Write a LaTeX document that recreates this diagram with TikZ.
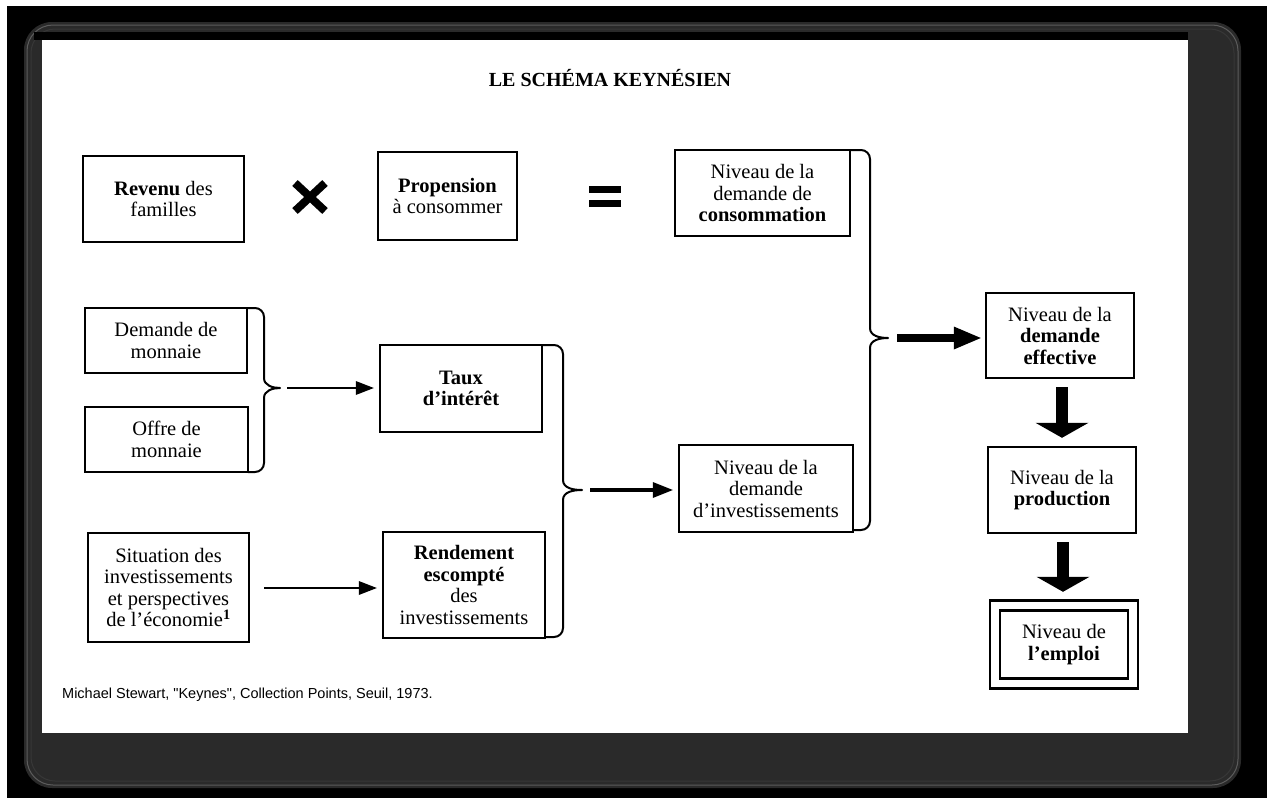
\documentclass[tikz,border=0pt]{standalone}
\usepackage{fontspec}
\setmainfont{Liberation Serif}
\newfontfamily\footfont{Liberation Sans}
\usetikzlibrary{arrows.meta,calc}
\definecolor{shadowgray}{HTML}{2A2A2A}
\definecolor{shadowline}{HTML}{5C5C5C}
\begin{document}
\begin{tikzpicture}[x=1pt,y=-1pt,
  box/.style={draw=black, line width=2.4pt, fill=white, align=center, inner sep=2pt,
    font=\fontsize{20.5}{21.5}\selectfont},
  bracestyle/.style={draw=black, line width=2pt, line cap=round, line join=round},
  thinarrow/.style={line width=2pt, -{Triangle[length=18pt,width=14pt,line width=0pt]}},
  midarrow/.style={line width=4.5pt, -{Triangle[length=20pt,width=16pt,line width=0pt]}},
  bigarrow/.style={line width=8pt, -{Triangle[length=27pt,width=23pt,line width=0pt]}},
  downarrow/.style={line width=12pt, -{Triangle[length=15pt,width=53pt,line width=0pt]}},
  titlestyle/.style={font=\bfseries\fontsize{20}{20}\selectfont},
  footstyle/.style={font=\footfont\fontsize{14.5}{16}\selectfont},
]
% ---------- background / page ----------
\useasboundingbox (0,0) rectangle (1267,798);
\fill[white] (0,0) rectangle (1267,798);
\fill[black] (7,6) rectangle (1267,798);
\fill[shadowgray, rounded corners=28pt] (24,22) rectangle (1241,788);
\draw[shadowline, line width=1pt, rounded corners=26pt] (27,25) rectangle (1238,785);
\draw[shadowline!60!black, line width=1pt, rounded corners=24pt] (31,29) rectangle (1234,781);
\fill[black] (34,32) rectangle (1188,40);
\fill[white] (42,40) rectangle (1188,733);

% ---------- title ----------
\node[titlestyle] (title) at (610,78) {LE SCHÉMA KEYNÉSIEN};

% ---------- boxes ----------
\node[box, minimum width=161pt, minimum height=86pt] (rev) at (163.5,199)
  {\textbf{Revenu} des\\ familles};
\node[box, minimum width=139pt, minimum height=88pt] (prop) at (447.5,196)
  {\textbf{Propension}\\ à consommer};
\node[box, minimum width=175pt, minimum height=86pt] (cons) at (762.5,193)
  {Niveau de la\\ demande de\\ \textbf{consommation}};
\node[box, minimum width=162pt, minimum height=65pt] (dem) at (166,340.5)
  {Demande de\\ monnaie};
\node[box, minimum width=163pt, minimum height=65pt] (off) at (166.5,439.5)
  {Offre de\\ monnaie};
\node[box, minimum width=162pt, minimum height=87pt] (taux) at (461,388.5)
  {\textbf{Taux}\\ \textbf{d’intérêt}};
\node[box, minimum width=174pt, minimum height=87pt] (inv) at (766,488.5)
  {Niveau de la\\ demande\\ d’investissements};
\node[box, minimum width=161pt, minimum height=109pt] (sit) at (168.5,587.5)
  {Situation des\\ investissements\\ et perspectives\\ de l’économie\textsuperscript{\textbf{1}}};
\node[box, minimum width=162pt, minimum height=106pt] (rend) at (464,585)
  {\textbf{Rendement}\\ \textbf{escompté}\\ des\\ investissements};
\node[box, minimum width=148pt, minimum height=85pt] (eff) at (1060,335.5)
  {Niveau de la\\ \textbf{demande}\\ \textbf{effective}};
\node[box, minimum width=148pt, minimum height=86pt] (prod) at (1062,490)
  {Niveau de la\\ \textbf{production}};
\node[box, double, double distance=7.5pt, minimum width=138pt, minimum height=78pt] (emp) at (1064,644.5)
  {Niveau de\\ \textbf{l’emploi}};

% ---------- operators ----------
\draw[line width=8pt] (295,183) -- (325,211) (325,183) -- (295,211);
\fill (589,186) rectangle (621,193);
\fill (589,200) rectangle (621,207);

% ---------- braces ----------
\coordinate (tipA) at (280,388);
\coordinate (tipB) at (582,490);
\coordinate (tipC) at (888,338);
\draw[bracestyle] (248,308) -- (255,308) to[out=0,in=90] (264,317) -- (264,378)
  to[out=-90,in=180] (tipA) to[out=180,in=90] (264,398) -- (264,463)
  to[out=-90,in=0] (255,472) -- (248,472);
\draw[bracestyle] (542,345) -- (554,345) to[out=0,in=90] (563,354) -- (563,480)
  to[out=-90,in=180] (tipB) to[out=180,in=90] (563,500) -- (563,628)
  to[out=-90,in=0] (554,637) -- (545,637);
\draw[bracestyle] (850,150) -- (861,150) to[out=0,in=90] (870,159) -- (870,328)
  to[out=-90,in=180] (tipC) to[out=180,in=90] (870,348) -- (870,521)
  to[out=-90,in=0] (861,530) -- (853,530);

% ---------- arrows ----------
\draw[thinarrow, shorten <=7pt, shorten >=5pt] (tipA) -- (tipA -| taux.west);
\draw[thinarrow, shorten <=14pt, shorten >=5pt] (sit.east |- 0,588) -- (rend.west |- 0,588);
\draw[midarrow, shorten <=8pt, shorten >=5pt] (tipB) -- (tipB -| inv.west);
\draw[bigarrow, shorten <=9pt, shorten >=4pt] (tipC) -- (tipC -| eff.west);
\draw[downarrow, shorten <=8pt, shorten >=8pt] (eff.south -| 1062,0) -- (prod.north -| 1062,0);
\draw[downarrow, shorten <=8pt, shorten >=12.5pt] (prod.south -| 1063,0) -- (emp.north -| 1063,0);

% ---------- source ----------
\node[footstyle, anchor=base west, inner sep=0pt] (src) at (62,698)
  {Michael Stewart, "Keynes", Collection Points, Seuil, 1973.};
\end{tikzpicture}
\end{document}
